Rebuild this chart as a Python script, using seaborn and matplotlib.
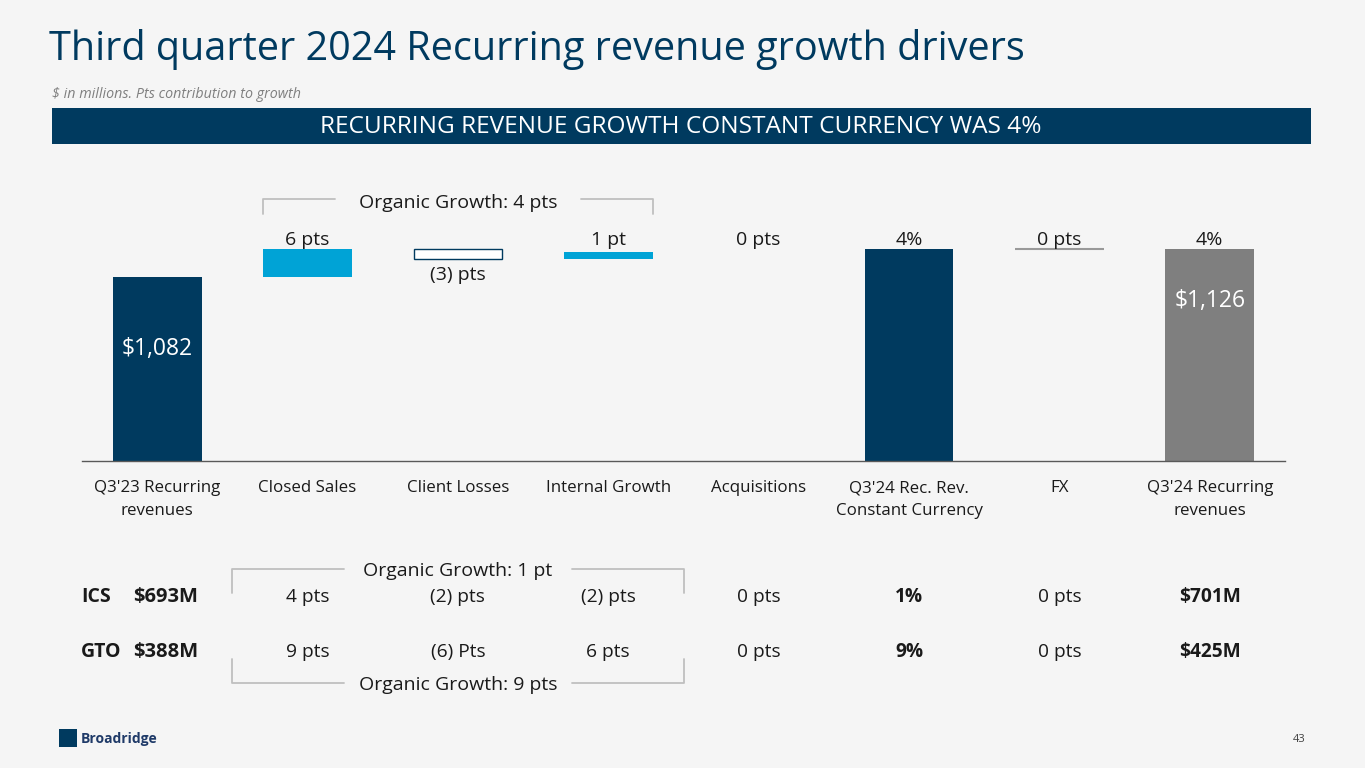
import numpy as np
import pandas as pd
import seaborn as sns
import matplotlib.pyplot as plt
import matplotlib.transforms as mtransforms
from matplotlib.lines import Line2D
from matplotlib.patches import Rectangle

# data
categories = ["Q3'23 Recurring\nrevenues", "Closed Sales", "Client Losses", "Internal Growth",
              "Acquisitions", "Q3'24 Rec. Rev.\nConstant Currency", "FX", "Q3'24 Recurring\nrevenues"]
# bar extents as drawn ($M, truncated axis)
bar_bottom = [None, 1082, 1110, 1110, None, None, None, None]
bar_top = [1082, 1126, 1126, 1121, None, 1126, 1126, 1126]
kind = ['total', 'up', 'down', 'up', 'none', 'total', 'line', 'end']
step_labels = ['', '6 pts', '(3) pts', '1 pt', '0 pts', '4%', '0 pts', '4%']
inside_labels = ['$1,082', '', '', '', '', '', '', '$1,126']
ics_row = ['4 pts', '(2) pts', '(2) pts', '0 pts', '1%', '0 pts', '$701M']
gto_row = ['9 pts', '(6) Pts', '6 pts', '0 pts', '9%', '0 pts', '$425M']
ics_base = '$693M'
gto_base = '$388M'
axis_low = 793
axis_high = 1235

navy = '#003A5F'
blue = '#00A3D6'
grey_bar = '#7F7F7F'
bg = '#F5F5F5'
txt = '#1A1A1A'

sns.set_theme(style='white')
plt.rcParams['font.family'] = ['Open Sans', 'DejaVu Sans']

fig = plt.figure(figsize=(13.65, 7.68), dpi=100, facecolor=bg)
W, H = 1365, 768


def fx(px):
    return px / W


def fy(py):
    return 1 - py / H


ax = fig.add_axes([fx(82), fy(461), fx(1285) - fx(82), fy(180) - fy(461)])
ax.set_facecolor(bg)

# total bars with seaborn
tot_df = pd.DataFrame({'cat': [categories[i] for i in range(8) if kind[i] in ('total', 'end')],
                       'val': [bar_top[i] for i in range(8) if kind[i] in ('total', 'end')]})
pal = {c: (grey_bar if kind[i] == 'end' else navy) for i, c in enumerate(categories)}
sns.barplot(data=tot_df, x='cat', y='val', order=categories, hue='cat', palette=pal,
            width=0.59, legend=False, saturation=1, ax=ax, linewidth=0)

# floating bars
for i, k in enumerate(kind):
    if k == 'up':
        ax.bar(i, bar_top[i] - bar_bottom[i], bottom=bar_bottom[i], width=0.59, color=blue, linewidth=0)
    elif k == 'down':
        ax.bar(i, bar_top[i] - bar_bottom[i], bottom=bar_bottom[i], width=0.59, color='white',
               edgecolor=navy, linewidth=1)
    elif k == 'line':
        ax.hlines(bar_top[i], i - 0.295, i + 0.295, color='#999999', lw=1.5)

ax.set_ylim(axis_low, axis_high)
ax.set_xlim(-0.5, 7.5)
ax.set_yticks([])
ax.set_xlabel('')
ax.set_ylabel('')
for s in ['top', 'left', 'right']:
    ax.spines[s].set_visible(False)
ax.spines['bottom'].set_color('#595959')
ax.spines['bottom'].set_linewidth(1)
ax.set_xticks(range(8))
ax.set_xticklabels(categories, fontsize=12.2, color=txt, linespacing=1.55)
ax.tick_params(axis='x', which='major', length=0, pad=14)
ax.set_xticks(np.arange(-0.5, 8, 1), minor=True)
ax.tick_params(axis='x', which='minor', length=5, color='#595959', width=1, direction='out')

# step labels
level = 1126
for i, lab in enumerate(step_labels):
    if not lab:
        continue
    if kind[i] == 'down':
        ax.annotate(lab, (i, bar_bottom[i]), xytext=(0, -4.5), textcoords='offset points',
                    ha='center', va='top', fontsize=14, color=txt)
    else:
        y = bar_top[i] if bar_top[i] is not None else level
        ax.annotate(lab, (i, max(y, level)), xytext=(0, 0), textcoords='offset points',
                    ha='center', va='bottom', fontsize=14, color=txt)

inside_off = {0: -72, 7: -52}
for i, lab in enumerate(inside_labels):
    if lab:
        ax.annotate(lab, (i, bar_top[i]), xytext=(0, inside_off[i] * 0.72), textcoords='offset points',
                    ha='center', va='center', fontsize=16.5, color='white')

# blended transform: data x, figure y
bt = mtransforms.blended_transform_factory(ax.transData, fig.transFigure)
gline = dict(color='#BFBFBF', lw=1.3)


def bracket(x0, x1, y_bar, y_tick, text, y_text, gap):
    mid = (x0 + x1) / 2
    fig.add_artist(Line2D([x0, x0, mid - gap], [fy(y_tick), fy(y_bar), fy(y_bar)], transform=bt, **gline))
    fig.add_artist(Line2D([mid + gap, x1, x1], [fy(y_bar), fy(y_bar), fy(y_tick)], transform=bt, **gline))
    fig.text(mid, fy(y_text), text, transform=bt, ha='center', va='center', fontsize=14, color=txt)


bracket(1 - 0.295, 3 + 0.295, 199, 214, 'Organic Growth: 4 pts', 203, 0.82)
bracket(0.5, 3.5, 569, 593, 'Organic Growth: 1 pt', 571, 0.76)
bracket(0.5, 3.5, 683, 659, 'Organic Growth: 9 pts', 685, 0.76)

# table rows
for row, name, base, ypx in [(ics_row, 'ICS', ics_base, 597), (gto_row, 'GTO', gto_base, 652)]:
    fig.text(fx(81), fy(ypx), name, ha='left', va='center', fontsize=14, fontweight='bold', color=txt)
    fig.text(fx(133), fy(ypx), base, ha='left', va='center', fontsize=14.5, fontweight='bold', color=txt)
    for j, v in enumerate(row):
        bold = j in (4, 6)
        fig.text(j + 1, fy(ypx), v, transform=bt, ha='center', va='center', fontsize=13.8,
                 fontweight='bold' if bold else 'normal', color=txt)

# header
fig.text(fx(49), fy(50), 'Third quarter 2024 Recurring revenue growth drivers', ha='left', va='center',
         fontsize=28.5, color=navy)
fig.text(fx(52), fy(94), '$ in millions. Pts contribution to growth', ha='left', va='center',
         fontsize=10.3, style='italic', color='#7F7F7F')
fig.add_artist(Rectangle((fx(52), fy(144)), fx(1311) - fx(52), fy(108) - fy(144), transform=fig.transFigure,
                         facecolor=navy, edgecolor='none'))
fig.text(fx(681), fy(127), 'RECURRING REVENUE GROWTH CONSTANT CURRENCY WAS 4%', ha='center', va='center',
         fontsize=17.6, color='white')

# footer
fig.add_artist(Rectangle((fx(59), fy(747)), fx(18), fy(729) - fy(747), transform=fig.transFigure,
                         facecolor=navy, edgecolor='none'))
fig.text(fx(81), fy(739), 'Broadridge', ha='left', va='center', fontsize=10, fontweight='bold', color='#1F3A68')
fig.text(fx(1306), fy(739), '43', ha='right', va='center', fontsize=8, color='#404040')

fig.savefig('out.png', dpi=100, facecolor=bg)
